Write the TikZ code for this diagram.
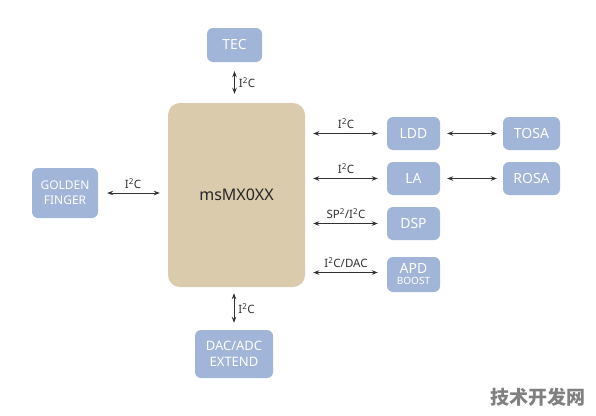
\documentclass[tikz,border=0pt]{standalone}
\usepackage{fontspec}
\setmainfont{Noto Sans}
\newfontfamily\cjk{Noto Sans CJK SC}
\usepackage{xcolor}
\usetikzlibrary{arrows.meta}

\definecolor{chipbg}{RGB}{218,203,172}
\definecolor{blockbg}{RGB}{160,181,216}
\definecolor{wire}{RGB}{50,50,50}

\tikzset{
  block/.style={fill=blockbg, rounded corners=6pt, text=white, align=center,
    inner sep=0pt, font=\fontsize{14}{15}\selectfont},
  bus/.style={{Stealth[length=6pt,width=4.5pt]}-{Stealth[length=6pt,width=4.5pt]},
    draw=wire, line width=0.9pt},
  buslabel/.style={font=\fontsize{11.5}{13}\selectfont, text=wire, inner sep=1pt}
}

\begin{document}
\begin{tikzpicture}[x=1pt, y=-1pt]
    \useasboundingbox (0,0) rectangle (596,415);

    % Main chip
    \node[fill=chipbg, rounded corners=12pt, minimum width=137pt, minimum height=184pt,
      font=\fontsize{16}{18}\selectfont, text=black!85] (chip) at (236.5,195) {msMX0XX};

    % Peripheral blocks
    \node[block, minimum width=55pt, minimum height=34pt] (tec) at (234.5,45) {TEC};
    \node[block, minimum width=53pt, minimum height=33pt] (ldd) at (413.5,133.5) {LDD};
    \node[block, minimum width=57pt, minimum height=33pt] (tosa) at (531.5,133.5) {TOSA};
    \node[block, minimum width=53pt, minimum height=33pt] (la) at (413.5,178.5) {LA};
    \node[block, minimum width=57pt, minimum height=33pt] (rosa) at (531.5,178.5) {ROSA};
    \node[block, minimum width=53pt, minimum height=33pt] (dsp) at (413.5,223.5) {DSP};
    \node[block, minimum width=53pt, minimum height=35pt] (apd) at (413.5,274.5)
      {APD\\[-4pt]{\fontsize{10}{11}\selectfont BOOST}};
    \node[block, minimum width=66pt, minimum height=50pt, font=\fontsize{12}{15}\selectfont]
      (golden) at (65,193) {GOLDEN\\FINGER};
    \node[block, minimum width=78pt, minimum height=48pt, font=\fontsize{13}{16}\selectfont]
      (dacadc) at (234,354) {DAC/ADC\\EXTEND};

    % Buses
    \draw[bus, shorten <=9pt, shorten >=9pt] (tec) -- (tec |- chip.north)
      node[buslabel, midway, right=3pt] {I\textsuperscript{2}C};
    \draw[bus, shorten <=6pt, shorten >=7pt] (chip.south -| dacadc) -- (dacadc)
      node[buslabel, midway, right=3pt] {I\textsuperscript{2}C};
    \draw[bus, shorten <=9pt, shorten >=8pt] (golden) -- (golden -| chip.west)
      node[buslabel, midway, above=3pt] {I\textsuperscript{2}C};
    \draw[bus, shorten <=8pt, shorten >=9pt] (chip.east |- ldd) -- (ldd)
      node[buslabel, midway, above=3pt] {I\textsuperscript{2}C};
    \draw[bus, shorten <=8pt, shorten >=9pt] (chip.east |- la) -- (la)
      node[buslabel, midway, above=3pt] {I\textsuperscript{2}C};
    \draw[bus, shorten <=8pt, shorten >=9pt] (chip.east |- dsp) -- (dsp)
      node[buslabel, midway, above=3pt] {SP\textsuperscript{2}/I\textsuperscript{2}C};
    \draw[bus, shorten <=8pt, shorten >=9pt] (chip.east |- apd) ++(0,-2) coordinate (apdin) -- (apdin -| apd.west)
      node[buslabel, midway, above=3pt] {I\textsuperscript{2}C/DAC};
    \draw[bus, shorten <=7pt, shorten >=6pt] (ldd) -- (tosa);
    \draw[bus, shorten <=7pt, shorten >=6pt] (la) -- (rosa);

    % Watermark
    \node[text=black!50, font=\cjk\bfseries\fontsize{19}{20}\selectfont] (mark) at (538,397) {技术开发网};
\end{tikzpicture}
\end{document}
